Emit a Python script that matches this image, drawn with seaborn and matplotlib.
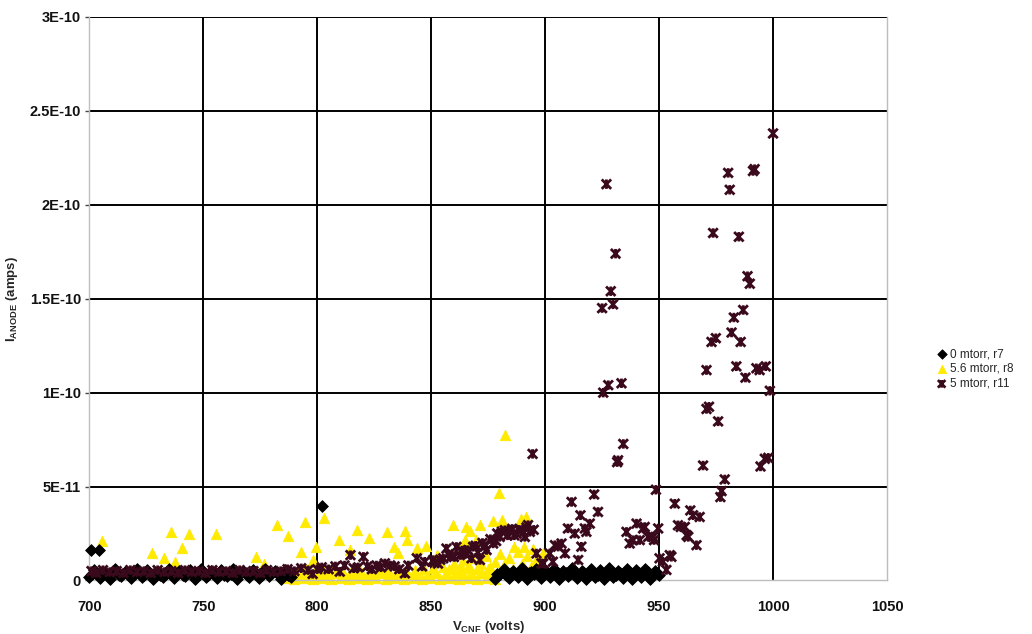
import numpy as np
import pandas as pd
import matplotlib
matplotlib.use("Agg")
import matplotlib.pyplot as plt
from matplotlib.path import Path
import seaborn as sns

# ---- data: anode current (pA) vs CNF voltage (V) ----
r7_volts = [700.7, 704.3, 802,
            700, 702, 704.5, 707, 709, 711.5, 714, 716, 718.5, 721, 723, 725.5, 728, 730,
            732.5, 735, 737, 739.5, 742, 744, 746.5, 749, 751, 753.5, 756, 758, 760.5, 763,
            765, 767.5, 770, 772, 774.5, 777, 779, 781.5, 784, 786, 788.5,
            701, 705, 710, 713, 717, 720, 724, 727, 731, 734, 738, 741, 745, 748, 752, 755,
            759, 762, 766, 769, 773, 776, 780, 783, 787,
            878, 880, 882, 884, 886, 888, 890, 892, 894, 896, 898, 900, 902, 904, 906, 908,
            910, 912, 914, 916, 918, 920, 922, 924, 926, 928, 930, 932, 934, 936, 938, 940,
            942, 944, 946, 948, 950,
            879, 881, 883, 885, 887, 889, 891, 893, 895, 897, 899, 901, 903, 905, 907, 909,
            911, 913, 915, 917, 919, 921, 923, 925, 927, 929, 931, 933, 935, 937, 939, 941,
            943, 945, 947, 949]
r7_pA = [16, 16, 39.5,
         2, 5.5, 1.5, 4.5, 1, 6, 2.5, 5, 1.5, 6, 2, 5.5, 1, 4.5,
         2, 6, 1.5, 5, 2.5, 5.5, 1, 6, 2, 5, 1.5, 5.5, 2.5, 6,
         1, 5, 2, 5.5, 1.5, 6, 2.5, 5, 1, 5.5, 2,
         3.5, 3, 4, 3, 3.5, 4, 3, 3.5, 3, 4, 3.5, 3, 4, 3.5, 3, 4,
         3, 3.5, 4, 3, 3.5, 3, 4, 3.5, 3,
         1, 3.5, 6, 1.5, 5, 2, 6.5, 1, 4.5, 6, 1.5, 5.5, 2, 6, 1, 5,
         2.5, 6.5, 1.5, 5, 1, 6, 2, 5.5, 1, 6.5, 2, 5, 1.5, 6, 1, 5.5,
         2, 6, 1, 5, 3,
         3.5, 4.5, 3, 4, 3.5, 4.5, 3, 4, 3.5, 4.5, 3, 4, 3.5, 4.5, 3, 4,
         3.5, 4.5, 3, 4, 3.5, 4.5, 3, 4, 3.5, 4.5, 3, 4, 3.5, 4.5, 3, 4,
         3.5, 4.5, 3, 4]

r8_volts = [705.6, 727.4, 732.6, 735.7, 737.6, 740.5, 743.6, 755.6, 773.2, 776.5, 782.3,
            787.3, 792.7, 794.5, 798.2, 799.6, 803.2, 809.4, 814.6, 817.6, 822.7, 830.6,
            833.6, 835.5, 838.6, 839.5, 843.6, 847.7, 852.4, 859.4, 864.8, 865.1, 867,
            869.6, 871.4, 877.3, 879.6, 881.3, 882.5, 886.3, 889.6, 890.7, 891.8, 894.8, 899,
            786, 788, 790, 792, 794, 796, 798, 800, 802, 804, 806, 808, 810, 812, 814, 816,
            818, 820, 822, 824, 826, 828, 830, 832, 834, 836, 838, 840, 842, 844, 846, 848,
            850, 852, 854, 856, 858, 860, 862, 864, 866, 868, 870, 872, 874, 876, 878,
            787, 791, 795, 799, 803, 807, 811, 815, 819, 823, 827, 831, 835, 839, 843, 847,
            851, 855, 859, 863, 867, 871, 875,
            858, 860, 862, 864, 866, 868, 870, 872, 874, 876, 878, 880, 882, 884, 886, 888,
            890, 892, 894, 896, 898, 899]
r8_pA = [20.9, 14.4, 11.8, 25.9, 10, 17.4, 25, 25, 12.6, 8.7, 29.4,
         23.7, 15.3, 31.2, 10.9, 17.9, 33.5, 21.5, 16, 26.8, 22.4, 25.7,
         17.9, 14.7, 26.4, 21.5, 17.4, 18.4, 13.5, 29.4, 21.5, 28.5, 26.4,
         21.8, 29.6, 31.5, 46.7, 32.4, 77.5, 18, 32.6, 18, 33.8, 17, 14.4,
         1.5, 3, 1, 2.5, 1.5, 3.5, 1, 2.5, 1.5, 3, 1, 4, 1.5, 2.5, 1, 3.5,
         1.5, 2.5, 1, 3, 1.5, 4, 1, 2.5, 1.5, 3, 1, 3.5, 1.5, 2.5, 1, 3,
         1.5, 4, 1, 3, 1.5, 2.5, 1, 3.5, 1.5, 3, 1, 4, 1.5, 3, 1,
         5, 4.5, 5.5, 5, 4.5, 5.5, 5, 4.5, 5.5, 5, 4.5, 5.5, 5, 4.5, 5.5, 6,
         6.5, 7, 6, 7.5, 6.5, 7, 6,
         6, 9, 5, 11, 7, 12, 6, 9, 13, 7, 10, 14, 8, 12, 6, 15,
         9, 13, 7, 11, 8, 4]

r11_volts = [701, 703, 706, 709, 712, 715, 718, 721, 724, 727, 730, 733, 736, 739, 742, 745,
             748, 751, 754, 757, 760, 763, 766, 769, 772, 775, 778, 781, 784, 787, 790, 793,
             796, 798, 800,
             802, 805, 808, 809.9, 812, 814.6, 816, 818, 820.3, 822, 824, 826, 828, 829.7,
             832, 834, 836, 838.5, 840, 843.7, 846, 847.2, 850.9, 853, 855.3, 856.7, 859,
             861.1, 862.6, 864.5, 866.2, 867.7, 868.4, 871.4, 874.3, 877.2, 880.1, 882.3,
             884.5, 887.5, 889.6, 891.1, 891.8, 893.3, 894.5, 896.2, 898.4, 899.1,
             851.5, 854, 857.5, 860, 863.5, 865, 869.5, 870.5, 872.5, 873.5, 876, 878.5,
             879, 881, 883.5, 885.5, 886.5, 888.5, 890.5, 892.5, 895,
             902, 903.4, 904.3, 905.7, 907.2, 908.7, 910, 911.6, 913, 914.5, 915.5, 915.9,
             917.4, 918.1, 919.6, 921.5, 923.2, 925, 925.5, 926.9, 927.7, 928.8, 929.8,
             930.9, 931.6, 932, 933.5, 934.3, 935.7, 937.1, 938.6, 940.1, 941.5, 943, 943.7,
             945.2, 947.4, 947.8, 948.6, 949.6, 950.2, 951.7, 953.2, 954.7, 955.4, 956.9,
             958.3, 959.5, 961.3, 962.1, 962.8, 963.7, 964.9, 966.4, 967.8, 969.3, 970.8,
             970.8, 971.9, 973, 973.7, 974.9, 975.9, 976.9, 977.4, 978.8, 980.3, 981,
             981.8, 982.8, 983.9, 985, 985.8, 986.9, 987.9, 988.8, 989.8, 991.2, 991.9,
             992.7, 994.1, 994.5, 996.4, 996.8, 997.9, 998.6, 1000]
r11_pA = [5, 4, 5.5, 4.5, 5, 4, 5.5, 4.5, 5, 4, 5.5, 4.5, 5, 4, 5.5, 4.5,
          5, 4, 5.5, 4.5, 5, 4, 5.5, 4.5, 5, 4, 5.5, 4.5, 5, 6, 5, 6.5,
          5.5, 3.5, 6,
          7, 6, 7.5, 4.7, 8, 13.5, 6.5, 7, 12.6, 7.5, 6, 8, 7, 9.1,
          8, 7.5, 6, 3.8, 8, 11.8, 7.5, 10, 10.9, 9, 11.8, 17, 13,
          17.9, 13.5, 15, 16.2, 11.8, 17.9, 10.9, 16.2, 19.7, 23.2, 26.8,
          25.9, 25, 26.8, 23.2, 28.2, 25.9, 67.4, 14.4, 9.1, 9,
          9.5, 11, 14, 12.5, 16, 14, 18.5, 15, 20, 18, 22, 21,
          25, 26, 24, 27.5, 24, 27, 25.5, 29.5, 27,
          14.4, 10, 18.8, 18, 19.7, 14.4, 27.7, 41.8, 25, 10.9, 34.7, 18,
          27.7, 25.9, 30.3, 45.8, 36.5, 145, 100, 211, 104, 154, 147,
          174, 63, 64, 105, 72.7, 25.9, 19.7, 21.5, 30.3, 21.5, 27.7, 28.5,
          23.2, 23.2, 21.5, 48.3, 27.7, 11.8, 10, 5.6, 13.5, 12.6, 40.9,
          29.4, 28.5, 28.5, 24.1, 23.2, 37.3, 34.7, 18.8, 33.8, 61.2, 91.3,
          112, 92.5, 127, 185, 129, 84.7, 44.4, 47.6, 53.8, 217, 208,
          132, 140, 114, 183, 127, 144, 108, 162, 158, 218, 219,
          113, 112, 60.7, 64.8, 114, 65.3, 101, 238]

series_labels = ["0 mtorr, r7", "5.6 mtorr, r8", "5 mtorr, r11"]
x_ticks = [700, 750, 800, 850, 900, 950, 1000, 1050]
y_ticks = [0, 5e-11, 1e-10, 1.5e-10, 2e-10, 2.5e-10, 3e-10]
y_tick_labels = ["0", "5E-11", "1E-10", "1.5E-10", "2E-10", "2.5E-10", "3E-10"]

PA = 1e-12
r7 = pd.DataFrame({"volts": r7_volts, "amps": np.array(r7_pA) * PA})
r8 = pd.DataFrame({"volts": r8_volts, "amps": np.array(r8_pA) * PA})
r11 = pd.DataFrame({"volts": r11_volts, "amps": np.array(r11_pA) * PA})

# ---- styling ----
sns.set_theme(style="white")
plt.rcParams["font.family"] = ["Liberation Sans", "DejaVu Sans"]
plt.rcParams["mathtext.fontset"] = "custom"
plt.rcParams["mathtext.rm"] = "Liberation Sans:bold"
plt.rcParams["mathtext.it"] = "Liberation Sans:bold"
plt.rcParams["mathtext.bf"] = "Liberation Sans:bold"

fig = plt.figure(figsize=(10.32, 6.34), dpi=100)
ax = fig.add_axes([0.0865, 0.0844, 0.773, 0.8888])

# asterisk-style marker: an X with a vertical stroke
star = Path([(-1, -1), (1, 1), (-1, 1), (1, -1), (0, -1), (0, 1)],
            [Path.MOVETO, Path.LINETO, Path.MOVETO, Path.LINETO, Path.MOVETO, Path.LINETO])

black = "#000000"
yellow = "#ffea00"
maroon = "#3a0a1c"

sns.scatterplot(data=r7, x="volts", y="amps", ax=ax, marker="D", s=36,
                color=black, edgecolor=black, linewidth=0.6, zorder=3,
                clip_on=False, label=series_labels[0])
sns.scatterplot(data=r8, x="volts", y="amps", ax=ax, marker="^", s=56,
                color=yellow, edgecolor=yellow, linewidth=0.6, zorder=2,
                clip_on=False, label=series_labels[1])
sns.scatterplot(data=r11, x="volts", y="amps", ax=ax, marker=star, s=46,
                color=maroon, facecolor="none", edgecolor=maroon, linewidth=2.0,
                zorder=4, clip_on=False, label=series_labels[2])

ax.set_xlim(x_ticks[0], x_ticks[-1])
ax.set_ylim(y_ticks[0], y_ticks[-1])
ax.set_xticks(x_ticks)
ax.set_xticklabels([str(t) for t in x_ticks])
ax.set_yticks(y_ticks)
ax.set_yticklabels(y_tick_labels)

for lbl in ax.get_xticklabels() + ax.get_yticklabels():
    lbl.set_fontweight("bold")
    lbl.set_fontsize(10.5)
    lbl.set_color("#111111")

ax.tick_params(axis="y", which="major", left=True, length=3, width=1,
               color="#444444", pad=3)
ax.tick_params(axis="x", which="major", bottom=False, pad=8)

# black grid at interior ticks (plus the top line); edges stay light grey
ax.grid(True, color="black", linewidth=1.4)
ax.set_axisbelow(True)
xg = ax.xaxis.get_gridlines()
xg[0].set_visible(False)
xg[-1].set_visible(False)
ax.yaxis.get_gridlines()[0].set_visible(False)
for side in ["left", "right", "bottom"]:
    ax.spines[side].set_color("#bdbdbd")
    ax.spines[side].set_linewidth(1)
ax.spines["top"].set_visible(False)

ax.set_xlabel(r"V$_{\mathrm{CNF}}$ (volts)", fontsize=9.5, fontweight="bold")
ax.set_ylabel(r"I$_{\mathrm{ANODE}}$ (amps)", fontsize=9.5, fontweight="bold")
ax.xaxis.set_label_coords(0.5, -0.068)
ax.yaxis.set_label_coords(-0.087, 0.5)

handles, labels = ax.get_legend_handles_labels()
if ax.get_legend() is not None:
    ax.get_legend().remove()
fig.legend(handles, labels, loc="center left", bbox_to_anchor=(0.901, 0.418),
           frameon=False, fontsize=8.5, handletextpad=0.1, labelspacing=0.25,
           borderaxespad=0, handlelength=1.2, markerscale=0.8)

fig.savefig("out.png", dpi=100)
